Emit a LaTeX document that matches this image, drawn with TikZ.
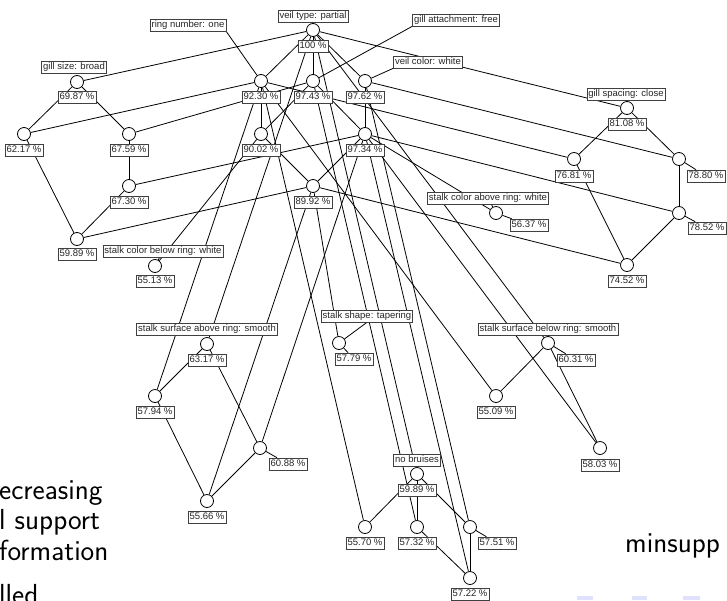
\documentclass[tikz,border=0pt]{standalone}
\usepackage{fontspec}
\newfontfamily\labfont{Liberation Sans}
\pgfdeclarelayer{bg}
\pgfsetlayers{bg,main}
\begin{document}
\begin{tikzpicture}[x=1pt,y=-1pt,
  vert/.style={circle,draw=black,fill=white,line width=0.8pt,minimum size=13pt,inner sep=0pt},
  lab/.style={draw=black!75,fill=white,line width=0.6pt,font=\labfont\fontsize{9.5}{11}\selectfont,text=black!85,inner xsep=1.5pt,inner ysep=1.5pt,text height=7pt,text depth=2pt},
  edge/.style={line width=0.8pt,draw=black},
  slide/.style={font=\sffamily\fontsize{29}{35}\selectfont,anchor=base west,inner sep=0pt},
  nav/.style={fill=blue!12!white,draw=none}]
\useasboundingbox (0,0) rectangle (727,600);
% vertices
\node[vert] (T) at (313,30) {};
\node[vert] (A) at (261,81) {};
\node[vert] (B) at (313,81) {};
\node[vert] (C) at (365,81) {};
\node[vert] (G) at (77,82) {};
\node[vert] (S) at (627,108) {};
\node[vert] (D) at (261,134) {};
\node[vert] (E) at (365,134) {};
\node[vert] (L1) at (24,134) {};
\node[vert] (L2) at (129,134) {};
\node[vert] (R1) at (574,159) {};
\node[vert] (R2) at (679,159) {};
\node[vert] (F) at (313,186) {};
\node[vert] (L3) at (129,186) {};
\node[vert] (R3) at (679,213) {};
\node[vert] (SCA) at (496,213) {};
\node[vert] (L4) at (77,239) {};
\node[vert] (R4) at (627,265) {};
\node[vert] (SCB) at (155,266) {};
\node[vert] (SSA) at (207,344) {};
\node[vert] (SST) at (339,343) {};
\node[vert] (SSB) at (548,343) {};
\node[vert] (M1) at (155,396) {};
\node[vert] (M2) at (496,396) {};
\node[vert] (M3) at (260,448) {};
\node[vert] (M4) at (600,448) {};
\node[vert] (NB) at (417,474) {};
\node[vert] (M5) at (207,501) {};
\node[vert] (N1) at (365,527) {};
\node[vert] (N2) at (417,527) {};
\node[vert] (N3) at (470,527) {};
\node[vert] (BOT) at (470,578) {};
% value labels
\node[lab] (Tv) at (313,46) {100 \%};
\node[lab] (Av) at (261,97) {92.30 \%};
\node[lab] (Bv) at (313,97) {97.43 \%};
\node[lab] (Cv) at (365,97) {97.62 \%};
\node[lab] (Gv) at (77,97) {69.87 \%};
\node[lab] (Sv) at (627,124) {81.08 \%};
\node[lab] (Dv) at (261,150) {90.02 \%};
\node[lab] (Ev) at (365,150) {97.34 \%};
\node[lab] (L1v) at (24,150) {62.17 \%};
\node[lab] (L2v) at (129,150) {67.59 \%};
\node[lab] (R1v) at (574,176) {76.81 \%};
\node[lab] (R2v) at (706,176) {78.80 \%};
\node[lab] (Fv) at (313,202) {89.92 \%};
\node[lab] (L3v) at (129,202) {67.30 \%};
\node[lab] (R3v) at (707,228) {78.52 \%};
\node[lab] (SCAv) at (529,225) {56.37 \%};
\node[lab] (L4v) at (77,254) {59.89 \%};
\node[lab] (R4v) at (627,281) {74.52 \%};
\node[lab] (SCBv) at (155,281) {55.13 \%};
\node[lab] (SSAv) at (207,360) {63.17 \%};
\node[lab] (SSTv) at (354,359) {57.79 \%};
\node[lab] (SSBv) at (576,360) {60.31 \%};
\node[lab] (M1v) at (155,412) {57.94 \%};
\node[lab] (M2v) at (496,412) {55.09 \%};
\node[lab] (M3v) at (288,464) {60.88 \%};
\node[lab] (M4v) at (600,465) {58.03 \%};
\node[lab] (NBv) at (417,490) {59.89 \%};
\node[lab] (M5v) at (207,517) {55.66 \%};
\node[lab] (N1v) at (365,543) {55.70 \%};
\node[lab] (N2v) at (417,543) {57.32 \%};
\node[lab] (N3v) at (497,543) {57.51 \%};
\node[lab] (BOTv) at (470,594) {57.22 \%};
% attribute labels
\node[lab] (Ta) at (313,16) {veil type: partial};
\node[lab] (Aa) at (188,25) {ring number: one};
\node[lab] (Ba) at (456,20) {gill attachment: free};
\node[lab] (Ca) at (428,62) {veil color: white};
\node[lab] (Ga) at (74,67) {gill size: broad};
\node[lab] (Sa) at (626,94) {gill spacing: close};
\node[lab] (SCAa) at (488,198) {stalk color above ring: white};
\node[lab] (SCBa) at (163,251) {stalk color below ring: white};
\node[lab] (SSAa) at (207,329) {stalk surface above ring: smooth};
\node[lab] (SSTa) at (367,316) {stalk shape: tapering};
\node[lab] (SSBa) at (548,329) {stalk surface below ring: smooth};
\node[lab] (NBa) at (417,460) {no bruises};
% edges
\begin{pgfonlayer}{bg}
\foreach \u/\v in {T/A,T/B,T/C,T/G,T/S,T/SSA,T/SSB,T/NB,
  A/L1,A/D,A/R1,A/M1,A/N1,A/M2,
  B/L2,B/D,B/E,B/N2,
  C/E,C/R2,C/N3,
  G/L1,G/L2,S/R1,S/R2,
  D/F,D/SCB,
  E/F,E/L3,E/R3,E/M3,E/M4,E/BOT,E/SCA,
  L1/L4,L2/L3,L3/L4,
  F/L4,F/R4,F/SST,F/M5,
  R1/R4,R2/R3,R3/R4,
  SSA/M1,SSA/M3,SSB/M2,SSB/M4,
  M1/M5,M3/M5,
  NB/N1,NB/N2,NB/N3,N2/BOT,N3/BOT}
  \draw[edge] (\u) -- (\v);
% label connectors
\draw[edge] (A) -- (Aa.south east);
\draw[edge] (B) -- (Ba.south west);
\draw[edge] (C) -- (Ca.south west);
\draw[edge] (SST) -- (SSTa.south);
\draw[edge] (SST) -- (SSTv);
\draw[edge] (SCA) -- (SCAa);
\draw[edge] (SCA) -- (SCAv);
\draw[edge] (SCB) -- (SCBa);
\draw[edge] (R2) -- (R2v);
\draw[edge] (R3) -- (R3v);
\draw[edge] (SSB) -- (SSBv);
\draw[edge] (M3) -- (M3v);
\draw[edge] (N3) -- (N3v);
\end{pgfonlayer}
% slide text behind the lattice
\node[slide] (s1) at (-1,499) {ecreasing};
\node[slide] (s2) at (-1,529) {l support};
\node[slide] (s3) at (-1,560) {formation};
\node[slide] (s4) at (-1,604) {lled};
\node[slide] (s5) at (625,552) {minsupp};
\fill[nav] (577,596) rectangle (593,600);
\fill[nav] (632,596) rectangle (647,600);
\fill[nav] (683,596) rectangle (700,600);
\end{tikzpicture}
\end{document}
